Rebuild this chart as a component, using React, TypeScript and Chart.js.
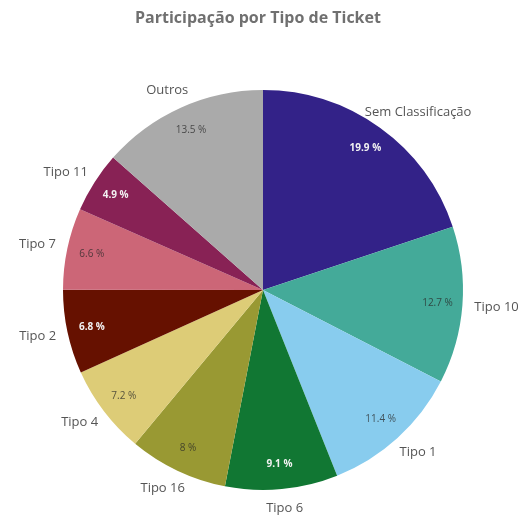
import React, { useEffect, useRef } from "react";
import { Chart, registerables } from "chart.js";

Chart.register(...registerables);

const chartTitle = "Participação por Tipo de Ticket";
const categories = [
  "Sem Classificação",
  "Tipo 10",
  "Tipo 1",
  "Tipo 6",
  "Tipo 16",
  "Tipo 4",
  "Tipo 2",
  "Tipo 7",
  "Tipo 11",
  "Outros",
];
const shares = [19.9, 12.7, 11.4, 9.1, 8, 7.2, 6.8, 6.6, 4.9, 13.5];
const sliceColors = [
  "#332288",
  "#44AA99",
  "#88CCEE",
  "#117733",
  "#999933",
  "#DDCC77",
  "#661100",
  "#CC6677",
  "#882255",
  "#AAAAAA",
];
const lightText = [true, false, false, true, false, false, true, false, true, false];

const FONT = "'Open Sans', 'DejaVu Sans', sans-serif";

const labelsPlugin = {
  id: "pieLabels",
  afterDraw(chart: any) {
    const ctx = chart.ctx;
    const meta = chart.getDatasetMeta(0);
    ctx.save();
    // title
    ctx.font = `bold 16px ${FONT}`;
    ctx.fillStyle = "#707070";
    ctx.textAlign = "center";
    ctx.textBaseline = "middle";
    ctx.fillText(chartTitle, 258, 18);

    meta.data.forEach((arc: any, i: number) => {
      const { x, y, startAngle, endAngle, outerRadius } = arc.getProps(
        ["x", "y", "startAngle", "endAngle", "outerRadius"],
        true
      );
      const mid = (startAngle + endAngle) / 2;
      const c = Math.cos(mid);
      const s = Math.sin(mid);
      // inner percentage
      const ir = outerRadius * 0.875;
      ctx.font = lightText[i] ? `bold 10px ${FONT}` : `10px ${FONT}`;
      ctx.fillStyle = lightText[i] ? "#f2f2f2" : "rgba(40,40,40,0.75)";
      ctx.textAlign = "center";
      ctx.textBaseline = "middle";
      ctx.fillText(`${shares[i]} %`, x + c * ir, y + s * ir);
      // outer label
      ctx.font = `13px ${FONT}`;
      ctx.fillStyle = "#555555";
      const w = ctx.measureText(categories[i]).width;
      const orr = outerRadius + 12;
      const lx = x + c * orr + c * (w / 2);
      const ly = y + s * orr + s * 7;
      ctx.fillText(categories[i], lx, ly);
    });
    ctx.restore();
  },
};

export default function App() {
  const ref = useRef<HTMLCanvasElement | null>(null);
  useEffect(() => {
    if (!ref.current) return;
    const chart = new Chart(ref.current, {
      type: "pie",
      data: {
        labels: categories,
        datasets: [
          {
            data: shares,
            backgroundColor: sliceColors,
            borderWidth: 0,
          },
        ],
      },
      options: {
        animation: false,
        responsive: true,
        maintainAspectRatio: false,
        layout: { padding: { top: 90, bottom: 29, left: 63, right: 64 } },
        plugins: {
          legend: { display: false },
          title: { display: false },
          tooltip: { enabled: false },
        },
      },
      plugins: [labelsPlugin],
    });
    return () => chart.destroy();
  }, []);
  return (
    <div style={{ position: "fixed", left: 0, top: 0, width: 527, height: 519, background: "#fff" }}>
      <canvas ref={ref} />
    </div>
  );
}
